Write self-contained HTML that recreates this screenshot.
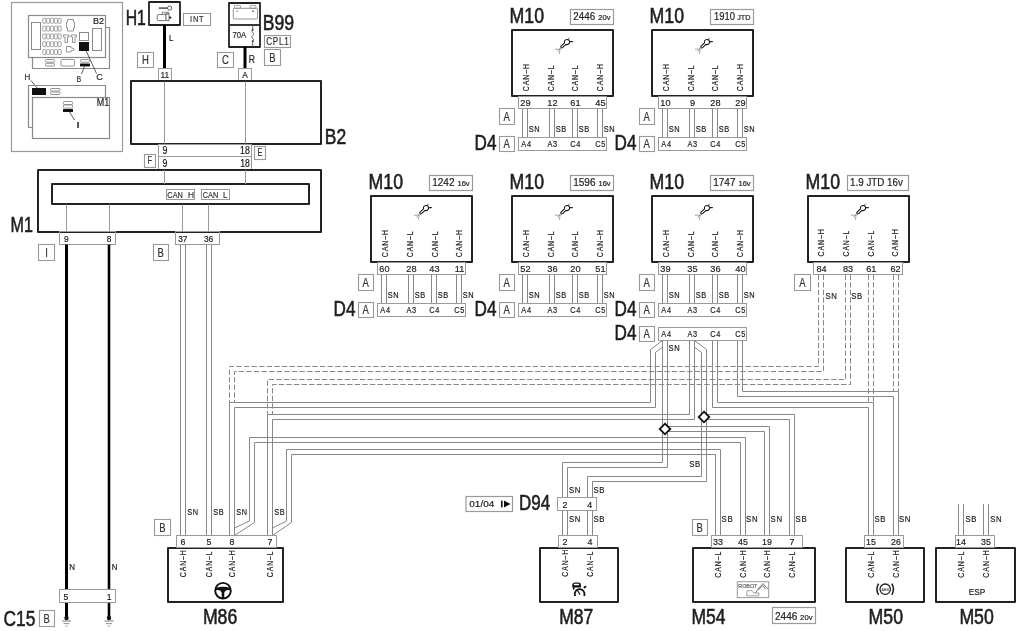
<!DOCTYPE html><html><head><meta charset="utf-8"><style>html,body{margin:0;padding:0;background:#fff;}svg{display:block;will-change:transform;} text{stroke-width:0.2px;font-family:"Liberation Sans",sans-serif;}</style></head><body><svg width="1024" height="631" viewBox="0 0 1024 631"><rect width="1024" height="631" fill="#fff"/><rect x="11.5" y="2.5" width="111" height="149" fill="none" stroke="#9a9a9a" stroke-width="1.2"/>
<polyline points="105.5,27.5 109.5,27.5 109.5,68.5 32.5,68.5 32.5,57.5" fill="none" stroke="#8a8a8a" stroke-width="1.2"/>
<rect x="28.5" y="15.5" width="77" height="42" fill="#fff" stroke="#8a8a8a" stroke-width="1.2"/>
<rect x="31.5" y="22.5" width="9" height="27" fill="none" stroke="#8a8a8a" stroke-width="1"/>
<rect x="42.8" y="18.3" width="3.2" height="5" fill="none" stroke="#8a8a8a" stroke-width="0.8" rx="1"/>
<rect x="46.6" y="18.3" width="3.2" height="5" fill="none" stroke="#8a8a8a" stroke-width="0.8" rx="1"/>
<rect x="50.4" y="18.3" width="3.2" height="5" fill="none" stroke="#8a8a8a" stroke-width="0.8" rx="1"/>
<rect x="54.2" y="18.3" width="3.2" height="5" fill="none" stroke="#8a8a8a" stroke-width="0.8" rx="1"/>
<rect x="58" y="18.3" width="3.2" height="5" fill="none" stroke="#8a8a8a" stroke-width="0.8" rx="1"/>
<rect x="42.8" y="26.1" width="3.2" height="5" fill="none" stroke="#8a8a8a" stroke-width="0.8" rx="1"/>
<rect x="46.6" y="26.1" width="3.2" height="5" fill="none" stroke="#8a8a8a" stroke-width="0.8" rx="1"/>
<rect x="50.4" y="26.1" width="3.2" height="5" fill="none" stroke="#8a8a8a" stroke-width="0.8" rx="1"/>
<rect x="54.2" y="26.1" width="3.2" height="5" fill="none" stroke="#8a8a8a" stroke-width="0.8" rx="1"/>
<rect x="58" y="26.1" width="3.2" height="5" fill="none" stroke="#8a8a8a" stroke-width="0.8" rx="1"/>
<rect x="42.8" y="33.9" width="3.2" height="5" fill="none" stroke="#8a8a8a" stroke-width="0.8" rx="1"/>
<rect x="46.6" y="33.9" width="3.2" height="5" fill="none" stroke="#8a8a8a" stroke-width="0.8" rx="1"/>
<rect x="50.4" y="33.9" width="3.2" height="5" fill="none" stroke="#8a8a8a" stroke-width="0.8" rx="1"/>
<rect x="54.2" y="33.9" width="3.2" height="5" fill="none" stroke="#8a8a8a" stroke-width="0.8" rx="1"/>
<rect x="58" y="33.9" width="3.2" height="5" fill="none" stroke="#8a8a8a" stroke-width="0.8" rx="1"/>
<rect x="42.8" y="41.7" width="3.2" height="5" fill="none" stroke="#8a8a8a" stroke-width="0.8" rx="1"/>
<rect x="46.6" y="41.7" width="3.2" height="5" fill="none" stroke="#8a8a8a" stroke-width="0.8" rx="1"/>
<rect x="50.4" y="41.7" width="3.2" height="5" fill="none" stroke="#8a8a8a" stroke-width="0.8" rx="1"/>
<rect x="54.2" y="41.7" width="3.2" height="5" fill="none" stroke="#8a8a8a" stroke-width="0.8" rx="1"/>
<rect x="58" y="41.7" width="3.2" height="5" fill="none" stroke="#8a8a8a" stroke-width="0.8" rx="1"/>
<rect x="42.8" y="49.5" width="3.2" height="5" fill="none" stroke="#8a8a8a" stroke-width="0.8" rx="1"/>
<rect x="46.6" y="49.5" width="3.2" height="5" fill="none" stroke="#8a8a8a" stroke-width="0.8" rx="1"/>
<rect x="50.4" y="49.5" width="3.2" height="5" fill="none" stroke="#8a8a8a" stroke-width="0.8" rx="1"/>
<rect x="54.2" y="49.5" width="3.2" height="5" fill="none" stroke="#8a8a8a" stroke-width="0.8" rx="1"/>
<rect x="58" y="49.5" width="3.2" height="5" fill="none" stroke="#8a8a8a" stroke-width="0.8" rx="1"/>
<polyline points="67.5,19.5 73.5,19.5 73.5,22 74.5,22 74.5,28 73.5,28 73.5,31 67.5,31 67.5,28 66.5,28 66.5,22 67.5,22 67.5,19.5" fill="none" stroke="#8a8a8a" stroke-width="0.9"/>
<polyline points="63.5,35 69,35 69,37 67.5,37 67.5,42.5 65,42.5 65,37 63.5,37 63.5,35" fill="none" stroke="#8a8a8a" stroke-width="0.9"/>
<polyline points="71,35 76.5,35 76.5,37 75,37 75,42.5 72.5,42.5 72.5,37 71,37 71,35" fill="none" stroke="#8a8a8a" stroke-width="0.9"/>
<polyline points="66.5,46.5 71,46.5 71,47.8 74,48.5 74,50 71,50.8 71,52 66.5,52 66.5,46.5" fill="none" stroke="#8a8a8a" stroke-width="0.9"/>
<rect x="79.5" y="32.5" width="9" height="8" fill="none" stroke="#8a8a8a" stroke-width="1"/>
<rect x="79.5" y="42.5" width="9" height="8" fill="#111" stroke="#111" stroke-width="1"/>
<rect x="92.5" y="28.5" width="9" height="22" fill="none" stroke="#8a8a8a" stroke-width="1"/>
<text transform="matrix(0.92 0 0 1 93.07 24)" font-size="9.86" fill="#222" stroke="#222">B2</text>
<rect x="45.5" y="59.5" width="9" height="2.7" fill="none" stroke="#8a8a8a" stroke-width="0.9" rx="0.8"/>
<rect x="45.5" y="63.3" width="9" height="2.7" fill="none" stroke="#8a8a8a" stroke-width="0.9" rx="0.8"/>
<rect x="61" y="59.5" width="13.5" height="6.5" fill="none" stroke="#8a8a8a" stroke-width="0.9" rx="0.8"/>
<rect x="80.5" y="59.5" width="9" height="2.7" fill="none" stroke="#8a8a8a" stroke-width="0.9" rx="0.8"/>
<rect x="80.5" y="64" width="9" height="2" fill="#111" stroke="#111" stroke-width="0.9"/>
<polyline points="84.5,66.5 81.5,74" fill="none" stroke="#333" stroke-width="0.8"/>
<polyline points="86,50.5 96.5,73.5" fill="none" stroke="#333" stroke-width="0.8"/>
<text transform="matrix(0.78 0 0 1 76.54 82)" font-size="9" fill="#333" stroke="#333">B</text>
<text transform="matrix(1.02 0 0 1 96.24 80)" font-size="9" fill="#333" stroke="#333">C</text>
<text transform="matrix(0.99 0 0 1 24.46 80)" font-size="8.14" fill="#333" stroke="#333">H</text>
<polyline points="30.8,80.5 37.2,88" fill="none" stroke="#333" stroke-width="0.8"/>
<polyline points="32.5,127.5 28.5,127.5 28.5,85.5 105.5,85.5 105.5,97" fill="none" stroke="#8a8a8a" stroke-width="1.2"/>
<rect x="32.5" y="88.5" width="13" height="6" fill="#111" stroke="#111" stroke-width="1"/>
<rect x="50.5" y="88.5" width="9.5" height="2.5" fill="none" stroke="#8a8a8a" stroke-width="0.9" rx="0.8"/>
<rect x="50.5" y="92" width="9.5" height="2.5" fill="none" stroke="#8a8a8a" stroke-width="0.9" rx="0.8"/>
<rect x="32.5" y="97.5" width="77" height="41" fill="#fff" stroke="#8a8a8a" stroke-width="1.2"/>
<text transform="matrix(0.83 0 0 1 96.68 106)" font-size="10.86" fill="#222" stroke="#222">M1</text>
<rect x="63.5" y="101.5" width="9" height="3" fill="none" stroke="#8a8a8a" stroke-width="0.9" rx="0.8"/>
<rect x="63.5" y="105" width="9" height="3" fill="none" stroke="#8a8a8a" stroke-width="0.9" rx="0.8"/>
<rect x="63.5" y="109.5" width="9" height="2" fill="#111" stroke="#111" stroke-width="1"/>
<polyline points="69.5,112 74.6,120" fill="none" stroke="#333" stroke-width="0.8"/>
<text transform="matrix(1.52 0 0 1 75.95 128)" font-size="9.86" fill="#333" stroke="#333">I</text>
<rect x="149" y="2" width="31" height="23" fill="#fff" stroke="#222" stroke-width="1.8" stroke-linejoin="round"/>
<text transform="matrix(0.7 0 0 1 125.64 25)" font-size="22.57" fill="#1e1e1e" stroke="#1e1e1e" style="stroke-width:0.6px">H1</text>
<polyline points="158.8,8.1 167.5,8.1" fill="none" stroke="#555" stroke-width="1.6"/>
<circle cx="169.6" cy="8.1" r="2.1" fill="none" stroke="#555" stroke-width="0.9"/>
<rect x="157.2" y="14.5" width="8.8" height="6.1" fill="#fff" stroke="#666" stroke-width="0.9" rx="1.5"/>
<rect x="166" y="13.2" width="3" height="7.4" fill="#fff" stroke="#666" stroke-width="0.9"/>
<rect x="162.2" y="12.2" width="6.1" height="2.1" fill="none" stroke="#777" stroke-width="0.8"/>
<path d="M169.5 16 L171.8 17.6 L169.5 19.2 Z" fill="#111"/>
<rect x="183.5" y="13.5" width="27" height="12" fill="#fff" stroke="#9a9a9a" stroke-width="1.1"/>
<text transform="matrix(0.8 0 0 1 197.16 22)" font-size="9.29" fill="#333" stroke="#333" text-anchor="middle" letter-spacing="0.9">INT</text>
<polyline points="164.5,25 164.5,69" fill="none" stroke="#000" stroke-width="3"/>
<text transform="matrix(0.85 0 0 1 169.06 41)" font-size="9.43" fill="#222" stroke="#222">L</text>
<rect x="137.5" y="52.5" width="16" height="15" fill="#fff" stroke="#9a9a9a" stroke-width="1.1"/>
<text transform="matrix(0.74 0 0 1 145.5 64)" font-size="12.86" fill="#333" stroke="#333" text-anchor="middle">H</text>
<rect x="158.5" y="68.5" width="13" height="13" fill="none" stroke="#9a9a9a" stroke-width="1"/>
<text transform="matrix(0.9 0 0 1 164.8 78)" font-size="9.29" fill="#222" stroke="#222" text-anchor="middle">11</text>
<rect x="229" y="3" width="31" height="44" fill="#fff" stroke="#222" stroke-width="1.8" stroke-linejoin="round"/>
<polyline points="229,25 260,25" fill="none" stroke="#222" stroke-width="1.8"/>
<rect x="233.3" y="8.3" width="24.2" height="10.7" fill="none" stroke="#888" stroke-width="0.9" rx="1"/>
<rect x="234.5" y="5.4" width="5.9" height="2.9" fill="none" stroke="#888" stroke-width="0.8" rx="0.6"/>
<rect x="250" y="5.4" width="5.9" height="2.9" fill="none" stroke="#888" stroke-width="0.8" rx="0.6"/>
<polyline points="236.3,11.2 238.3,11.2" fill="none" stroke="#666" stroke-width="0.8"/>
<polyline points="252.1,11.2 254.1,11.2" fill="none" stroke="#666" stroke-width="0.8"/>
<polyline points="253.1,10.2 253.1,12.2" fill="none" stroke="#666" stroke-width="0.8"/>
<text transform="matrix(0.8 0 0 1 232.52 38)" font-size="9.57" fill="#1e1e1e" stroke="#1e1e1e">70A</text>
<path d="M252.7 25 V29.7 M252.7 41.2 V47 M252.7 29.7 C249.6 31.2,256 33.6,252.7 35.5 C249.4 37.4,255.8 39.6,252.7 41.2" fill="none" stroke="#555" stroke-width="0.9"/>
<circle cx="252.7" cy="29.8" r="0.9" fill="#333"/><circle cx="252.7" cy="41.2" r="0.9" fill="#333"/>
<text transform="matrix(0.8 0 0 1 262.69 30)" font-size="22" fill="#1e1e1e" stroke="#1e1e1e" style="stroke-width:0.6px">B99</text>
<rect x="264.5" y="35.5" width="26" height="12" fill="#fff" stroke="#9a9a9a" stroke-width="1.1"/>
<text transform="matrix(0.78 0 0 1 277.85 45)" font-size="10.43" fill="#333" stroke="#333" text-anchor="middle" letter-spacing="0.9">CPL1</text>
<rect x="264.5" y="49.5" width="16" height="16" fill="#fff" stroke="#9a9a9a" stroke-width="1.1"/>
<text transform="matrix(0.74 0 0 1 272.5 62)" font-size="12.86" fill="#333" stroke="#333" text-anchor="middle">B</text>
<rect x="217.5" y="52.5" width="16" height="15" fill="#fff" stroke="#9a9a9a" stroke-width="1.1"/>
<text transform="matrix(0.74 0 0 1 225.5 64)" font-size="12.86" fill="#333" stroke="#333" text-anchor="middle">C</text>
<polyline points="245,47 245,69" fill="none" stroke="#000" stroke-width="3"/>
<text transform="matrix(0.85 0 0 1 248.81 63)" font-size="10.14" fill="#222" stroke="#222">R</text>
<rect x="238.5" y="68.5" width="13" height="13" fill="none" stroke="#9a9a9a" stroke-width="1"/>
<text transform="matrix(0.9 0 0 1 245 78)" font-size="9.29" fill="#222" stroke="#222" text-anchor="middle">A</text>
<rect x="131" y="81" width="190" height="63" fill="#fff" stroke="#222" stroke-width="2" stroke-linejoin="round"/>
<polyline points="164.5,81.5 164.5,143.5" fill="none" stroke="#999" stroke-width="1"/>
<polyline points="245.5,81.5 245.5,143.5" fill="none" stroke="#999" stroke-width="1"/>
<text transform="matrix(0.79 0 0 1 324.8 144)" font-size="22.14" fill="#1e1e1e" stroke="#1e1e1e" style="stroke-width:0.6px">B2</text>
<rect x="158.5" y="144.5" width="93" height="25" fill="none" stroke="#9a9a9a" stroke-width="1"/>
<polyline points="158.5,156.5 251.5,156.5" fill="none" stroke="#9a9a9a" stroke-width="1"/>
<text transform="matrix(0.85 0 0 1 162.56 154)" font-size="10.43" fill="#1a1a1a" stroke="#1a1a1a">9</text>
<text transform="matrix(0.85 0 0 1 240.12 154)" font-size="10.43" fill="#1a1a1a" stroke="#1a1a1a">18</text>
<text transform="matrix(0.85 0 0 1 162.56 167)" font-size="10.29" fill="#1a1a1a" stroke="#1a1a1a">9</text>
<text transform="matrix(0.85 0 0 1 240.25 167)" font-size="10.29" fill="#1a1a1a" stroke="#1a1a1a">18</text>
<rect x="254.5" y="146.5" width="11" height="13" fill="#fff" stroke="#9a9a9a" stroke-width="1.1"/>
<text transform="matrix(0.74 0 0 1 260 156)" font-size="10" fill="#333" stroke="#333" text-anchor="middle">E</text>
<rect x="144.5" y="154.5" width="11" height="13" fill="#fff" stroke="#9a9a9a" stroke-width="1.1"/>
<text transform="matrix(0.74 0 0 1 149.75 164)" font-size="10" fill="#333" stroke="#333" text-anchor="middle">F</text>
<rect x="38" y="170" width="283" height="62" fill="#fff" stroke="#222" stroke-width="2" stroke-linejoin="round"/>
<rect x="52" y="184" width="257" height="20" fill="#fff" stroke="#222" stroke-width="2" stroke-linejoin="round"/>
<polyline points="164.5,170 164.5,184" fill="none" stroke="#999" stroke-width="1"/>
<polyline points="245.5,170 245.5,184" fill="none" stroke="#999" stroke-width="1"/>
<rect x="166.5" y="189.5" width="28" height="10" fill="#fff" stroke="#9a9a9a" stroke-width="1"/>
<rect x="201.5" y="189.5" width="28" height="10" fill="#fff" stroke="#9a9a9a" stroke-width="1"/>
<text transform="matrix(0.78 0 0 1 167.33 198)" font-size="9.43" fill="#333" stroke="#333">CAN</text>
<text transform="matrix(0.89 0 0 1 187.93 198)" font-size="9.43" fill="#333" stroke="#333">H</text>
<text transform="matrix(0.77 0 0 1 202.84 198)" font-size="9.43" fill="#333" stroke="#333">CAN</text>
<text transform="matrix(0.84 0 0 1 223.06 198)" font-size="9.43" fill="#333" stroke="#333">L</text>
<polyline points="66.5,204.5 66.5,231.5" fill="none" stroke="#999" stroke-width="1"/>
<polyline points="109.5,204.5 109.5,231.5" fill="none" stroke="#999" stroke-width="1"/>
<polyline points="182.5,204.5 182.5,231.5" fill="none" stroke="#999" stroke-width="1"/>
<polyline points="208.5,204.5 208.5,231.5" fill="none" stroke="#999" stroke-width="1"/>
<text transform="matrix(0.71 0 0 1 10.6 232)" font-size="22.71" fill="#1e1e1e" stroke="#1e1e1e" style="stroke-width:0.6px">M1</text>
<rect x="59.5" y="231.5" width="56" height="13" fill="none" stroke="#9a9a9a" stroke-width="1"/>
<text transform="matrix(0.9 0 0 1 66.3 242)" font-size="9.29" fill="#1a1a1a" stroke="#1a1a1a" text-anchor="middle">9</text>
<text transform="matrix(0.9 0 0 1 109 242)" font-size="9.29" fill="#1a1a1a" stroke="#1a1a1a" text-anchor="middle">8</text>
<rect x="175.5" y="231.5" width="44" height="13" fill="none" stroke="#9a9a9a" stroke-width="1"/>
<text transform="matrix(0.9 0 0 1 182.8 242)" font-size="9.29" fill="#1a1a1a" stroke="#1a1a1a" text-anchor="middle">37</text>
<text transform="matrix(0.9 0 0 1 208.6 242)" font-size="9.29" fill="#1a1a1a" stroke="#1a1a1a" text-anchor="middle">36</text>
<rect x="38.5" y="244.5" width="16" height="16" fill="#fff" stroke="#9a9a9a" stroke-width="1.1"/>
<text transform="matrix(0.74 0 0 1 46.5 257)" font-size="12.86" fill="#333" stroke="#333" text-anchor="middle">I</text>
<rect x="153.5" y="244.5" width="15" height="16" fill="#fff" stroke="#9a9a9a" stroke-width="1.1"/>
<text transform="matrix(0.74 0 0 1 160.75 257)" font-size="12.86" fill="#333" stroke="#333" text-anchor="middle">B</text>
<polyline points="66.5,244.5 66.5,618" fill="none" stroke="#000" stroke-width="3"/>
<polyline points="109,244.5 109,618" fill="none" stroke="#000" stroke-width="2.6"/>
<text transform="matrix(0.85 0 0 1 69.17 570)" font-size="9.29" fill="#222" stroke="#222">N</text>
<text transform="matrix(0.85 0 0 1 111.67 570)" font-size="9.29" fill="#222" stroke="#222">N</text>
<rect x="59.5" y="589.5" width="56" height="13" fill="#fff" stroke="#9a9a9a" stroke-width="1"/>
<text transform="matrix(0.9 0 0 1 65.8 600)" font-size="9.57" fill="#1a1a1a" stroke="#1a1a1a" text-anchor="middle">5</text>
<text transform="matrix(0.9 0 0 1 109.2 600)" font-size="9.57" fill="#1a1a1a" stroke="#1a1a1a" text-anchor="middle">1</text>
<circle cx="66.5" cy="618" r="2.2" fill="#111"/>
<polyline points="62,621 71,621" fill="none" stroke="#666" stroke-width="0.9"/>
<polyline points="63.5,623.6 69.5,623.6" fill="none" stroke="#888" stroke-width="0.9"/>
<polyline points="65,626 68,626" fill="none" stroke="#aaa" stroke-width="0.9"/>
<circle cx="109" cy="618" r="2.2" fill="#111"/>
<polyline points="104.5,621 113.5,621" fill="none" stroke="#666" stroke-width="0.9"/>
<polyline points="106,623.6 112,623.6" fill="none" stroke="#888" stroke-width="0.9"/>
<polyline points="107.5,626 110.5,626" fill="none" stroke="#aaa" stroke-width="0.9"/>
<text transform="matrix(0.77 0 0 1 3.53 626)" font-size="22.57" fill="#1e1e1e" stroke="#1e1e1e" style="stroke-width:0.6px">C15</text>
<rect x="39.5" y="610.5" width="15" height="16" fill="#fff" stroke="#9a9a9a" stroke-width="1.1"/>
<text transform="matrix(0.74 0 0 1 46.75 623)" font-size="12.86" fill="#333" stroke="#333" text-anchor="middle">B</text>
<text transform="matrix(0.81 0 0 1 509.58 23)" font-size="21.86" fill="#1e1e1e" stroke="#1e1e1e" style="stroke-width:0.6px">M10</text>
<rect x="512" y="30" width="101" height="66" fill="#fff" stroke="#222" stroke-width="2" stroke-linejoin="round"/>
<g transform="translate(564 44)" fill="none" stroke-linecap="round"><path d="M-2.95 2.1 L0.53 -1.18 A2.6 2.6 0 1 1 2.03 0.42 L-1.45 3.7 A1.1 1.1 0 0 1 -2.95 2.1 Z" stroke="#111" stroke-width="1.05"/><path d="M4.2 -4.2 L5.3 -5.9" stroke="#333" stroke-width="0.8"/><path d="M5.6 -2.4 L8.4 -2.4" stroke="#222" stroke-width="1.2"/><path d="M-4 5 L-8.5 5.3 M-4 5 L-6.8 7.8 M-4 5 L-4.5 9.5" stroke="#777" stroke-width="0.75" stroke-dasharray="1.2 0.9"/></g>
<text transform="translate(529 91.35) rotate(-90) scale(0.74 1)" font-size="9.43" fill="#222" stroke="#222" letter-spacing="1.3">CAN–H</text>
<text transform="translate(554 91.35) rotate(-90) scale(0.73 1)" font-size="9.43" fill="#222" stroke="#222" letter-spacing="1.3">CAN–L</text>
<text transform="translate(578 91.35) rotate(-90) scale(0.73 1)" font-size="9.43" fill="#222" stroke="#222" letter-spacing="1.3">CAN–L</text>
<text transform="translate(603 91.35) rotate(-90) scale(0.74 1)" font-size="9.43" fill="#222" stroke="#222" letter-spacing="1.3">CAN–H</text>
<rect x="518.5" y="96.5" width="88" height="12" fill="none" stroke="#9a9a9a" stroke-width="1"/>
<text transform="matrix(0.95 0 0 1 525.5 106)" font-size="9.71" fill="#222" stroke="#222" text-anchor="middle">29</text>
<text transform="matrix(0.95 0 0 1 552.5 106)" font-size="9.71" fill="#222" stroke="#222" text-anchor="middle">12</text>
<text transform="matrix(0.95 0 0 1 575.5 106)" font-size="9.71" fill="#222" stroke="#222" text-anchor="middle">61</text>
<text transform="matrix(0.95 0 0 1 600.5 106)" font-size="9.71" fill="#222" stroke="#222" text-anchor="middle">45</text>
<polyline points="522.5,108.5 522.5,137.5" fill="none" stroke="#888" stroke-width="1"/>
<polyline points="527.5,108.5 527.5,137.5" fill="none" stroke="#888" stroke-width="1"/>
<text transform="matrix(0.8 0 0 1 528.63 132)" font-size="9.29" fill="#222" stroke="#222" letter-spacing="0.8">SN</text>
<polyline points="549.5,108.5 549.5,137.5" fill="none" stroke="#888" stroke-width="1"/>
<polyline points="554.5,108.5 554.5,137.5" fill="none" stroke="#888" stroke-width="1"/>
<text transform="matrix(0.8 0 0 1 555.63 132)" font-size="9.29" fill="#222" stroke="#222" letter-spacing="0.8">SB</text>
<polyline points="572.5,108.5 572.5,137.5" fill="none" stroke="#888" stroke-width="1"/>
<polyline points="577.5,108.5 577.5,137.5" fill="none" stroke="#888" stroke-width="1"/>
<text transform="matrix(0.8 0 0 1 578.63 132)" font-size="9.29" fill="#222" stroke="#222" letter-spacing="0.8">SB</text>
<polyline points="597.5,108.5 597.5,137.5" fill="none" stroke="#888" stroke-width="1"/>
<polyline points="602.5,108.5 602.5,137.5" fill="none" stroke="#888" stroke-width="1"/>
<text transform="matrix(0.8 0 0 1 603.63 132)" font-size="9.29" fill="#222" stroke="#222" letter-spacing="0.8">SN</text>
<rect x="499.5" y="108.5" width="15" height="16" fill="#fff" stroke="#9a9a9a" stroke-width="1.1"/>
<text transform="matrix(0.74 0 0 1 506.75 121)" font-size="12.86" fill="#333" stroke="#333" text-anchor="middle">A</text>
<rect x="518.5" y="137.5" width="88" height="13" fill="#fff" stroke="#9a9a9a" stroke-width="1"/>
<text transform="matrix(0.81 0 0 1 526.52 147)" font-size="9.14" fill="#222" stroke="#222" text-anchor="middle" letter-spacing="0.8">A4</text>
<text transform="matrix(0.81 0 0 1 552.62 147)" font-size="9.14" fill="#222" stroke="#222" text-anchor="middle" letter-spacing="0.8">A3</text>
<text transform="matrix(0.81 0 0 1 575.62 147)" font-size="9.14" fill="#222" stroke="#222" text-anchor="middle" letter-spacing="0.8">C4</text>
<text transform="matrix(0.81 0 0 1 600.52 147)" font-size="9.14" fill="#222" stroke="#222" text-anchor="middle" letter-spacing="0.8">C5</text>
<rect x="499.5" y="136.5" width="15" height="15" fill="#fff" stroke="#9a9a9a" stroke-width="1.1"/>
<text transform="matrix(0.74 0 0 1 506.75 148)" font-size="12.86" fill="#333" stroke="#333" text-anchor="middle">A</text>
<text transform="matrix(0.79 0 0 1 474.53 150)" font-size="21.71" fill="#1e1e1e" stroke="#1e1e1e" style="stroke-width:0.6px">D4</text>
<rect x="570.5" y="9.5" width="43" height="15" fill="#fff" stroke="#9a9a9a" stroke-width="1.2"/>
<text transform="matrix(0.97 0 0 1 573.31 20)" font-size="10.14" fill="#222" stroke="#222">2446</text>
<text transform="matrix(0.96 0 0 1 598.32 20)" font-size="7.86" fill="#222" stroke="#222">20v</text>
<text transform="matrix(0.81 0 0 1 649.58 23)" font-size="21.86" fill="#1e1e1e" stroke="#1e1e1e" style="stroke-width:0.6px">M10</text>
<rect x="652" y="30" width="101" height="66" fill="#fff" stroke="#222" stroke-width="2" stroke-linejoin="round"/>
<g transform="translate(704 44)" fill="none" stroke-linecap="round"><path d="M-2.95 2.1 L0.53 -1.18 A2.6 2.6 0 1 1 2.03 0.42 L-1.45 3.7 A1.1 1.1 0 0 1 -2.95 2.1 Z" stroke="#111" stroke-width="1.05"/><path d="M4.2 -4.2 L5.3 -5.9" stroke="#333" stroke-width="0.8"/><path d="M5.6 -2.4 L8.4 -2.4" stroke="#222" stroke-width="1.2"/><path d="M-4 5 L-8.5 5.3 M-4 5 L-6.8 7.8 M-4 5 L-4.5 9.5" stroke="#777" stroke-width="0.75" stroke-dasharray="1.2 0.9"/></g>
<text transform="translate(669 91.35) rotate(-90) scale(0.74 1)" font-size="9.43" fill="#222" stroke="#222" letter-spacing="1.3">CAN–H</text>
<text transform="translate(694 91.35) rotate(-90) scale(0.73 1)" font-size="9.43" fill="#222" stroke="#222" letter-spacing="1.3">CAN–L</text>
<text transform="translate(718 91.35) rotate(-90) scale(0.73 1)" font-size="9.43" fill="#222" stroke="#222" letter-spacing="1.3">CAN–L</text>
<text transform="translate(743 91.35) rotate(-90) scale(0.74 1)" font-size="9.43" fill="#222" stroke="#222" letter-spacing="1.3">CAN–H</text>
<rect x="658.5" y="96.5" width="88" height="12" fill="none" stroke="#9a9a9a" stroke-width="1"/>
<text transform="matrix(0.95 0 0 1 665.5 106)" font-size="9.71" fill="#222" stroke="#222" text-anchor="middle">10</text>
<text transform="matrix(0.95 0 0 1 692.5 106)" font-size="9.71" fill="#222" stroke="#222" text-anchor="middle">9</text>
<text transform="matrix(0.95 0 0 1 715.5 106)" font-size="9.71" fill="#222" stroke="#222" text-anchor="middle">28</text>
<text transform="matrix(0.95 0 0 1 740.5 106)" font-size="9.71" fill="#222" stroke="#222" text-anchor="middle">29</text>
<polyline points="662.5,108.5 662.5,137.5" fill="none" stroke="#888" stroke-width="1"/>
<polyline points="667.5,108.5 667.5,137.5" fill="none" stroke="#888" stroke-width="1"/>
<text transform="matrix(0.8 0 0 1 668.63 132)" font-size="9.29" fill="#222" stroke="#222" letter-spacing="0.8">SN</text>
<polyline points="689.5,108.5 689.5,137.5" fill="none" stroke="#888" stroke-width="1"/>
<polyline points="694.5,108.5 694.5,137.5" fill="none" stroke="#888" stroke-width="1"/>
<text transform="matrix(0.8 0 0 1 695.63 132)" font-size="9.29" fill="#222" stroke="#222" letter-spacing="0.8">SB</text>
<polyline points="712.5,108.5 712.5,137.5" fill="none" stroke="#888" stroke-width="1"/>
<polyline points="717.5,108.5 717.5,137.5" fill="none" stroke="#888" stroke-width="1"/>
<text transform="matrix(0.8 0 0 1 718.63 132)" font-size="9.29" fill="#222" stroke="#222" letter-spacing="0.8">SB</text>
<polyline points="737.5,108.5 737.5,137.5" fill="none" stroke="#888" stroke-width="1"/>
<polyline points="742.5,108.5 742.5,137.5" fill="none" stroke="#888" stroke-width="1"/>
<text transform="matrix(0.8 0 0 1 743.63 132)" font-size="9.29" fill="#222" stroke="#222" letter-spacing="0.8">SN</text>
<rect x="639.5" y="108.5" width="15" height="16" fill="#fff" stroke="#9a9a9a" stroke-width="1.1"/>
<text transform="matrix(0.74 0 0 1 646.75 121)" font-size="12.86" fill="#333" stroke="#333" text-anchor="middle">A</text>
<rect x="658.5" y="137.5" width="88" height="13" fill="#fff" stroke="#9a9a9a" stroke-width="1"/>
<text transform="matrix(0.81 0 0 1 666.52 147)" font-size="9.14" fill="#222" stroke="#222" text-anchor="middle" letter-spacing="0.8">A4</text>
<text transform="matrix(0.81 0 0 1 692.62 147)" font-size="9.14" fill="#222" stroke="#222" text-anchor="middle" letter-spacing="0.8">A3</text>
<text transform="matrix(0.81 0 0 1 715.62 147)" font-size="9.14" fill="#222" stroke="#222" text-anchor="middle" letter-spacing="0.8">C4</text>
<text transform="matrix(0.81 0 0 1 740.52 147)" font-size="9.14" fill="#222" stroke="#222" text-anchor="middle" letter-spacing="0.8">C5</text>
<rect x="639.5" y="136.5" width="15" height="15" fill="#fff" stroke="#9a9a9a" stroke-width="1.1"/>
<text transform="matrix(0.74 0 0 1 646.75 148)" font-size="12.86" fill="#333" stroke="#333" text-anchor="middle">A</text>
<text transform="matrix(0.79 0 0 1 614.53 150)" font-size="21.71" fill="#1e1e1e" stroke="#1e1e1e" style="stroke-width:0.6px">D4</text>
<rect x="710.5" y="9.5" width="43" height="15" fill="#fff" stroke="#9a9a9a" stroke-width="1.2"/>
<text transform="matrix(0.89 0 0 1 714.05 20)" font-size="10.57" fill="#222" stroke="#222">1910</text>
<text transform="matrix(0.96 0 0 1 737.15 20)" font-size="7.57" fill="#222" stroke="#222">JTD</text>
<text transform="matrix(0.81 0 0 1 368.58 189)" font-size="21.86" fill="#1e1e1e" stroke="#1e1e1e" style="stroke-width:0.6px">M10</text>
<rect x="371" y="196" width="101" height="66" fill="#fff" stroke="#222" stroke-width="2" stroke-linejoin="round"/>
<g transform="translate(423 210)" fill="none" stroke-linecap="round"><path d="M-2.95 2.1 L0.53 -1.18 A2.6 2.6 0 1 1 2.03 0.42 L-1.45 3.7 A1.1 1.1 0 0 1 -2.95 2.1 Z" stroke="#111" stroke-width="1.05"/><path d="M4.2 -4.2 L5.3 -5.9" stroke="#333" stroke-width="0.8"/><path d="M5.6 -2.4 L8.4 -2.4" stroke="#222" stroke-width="1.2"/><path d="M-4 5 L-8.5 5.3 M-4 5 L-6.8 7.8 M-4 5 L-4.5 9.5" stroke="#777" stroke-width="0.75" stroke-dasharray="1.2 0.9"/></g>
<text transform="translate(388 257.35) rotate(-90) scale(0.74 1)" font-size="9.43" fill="#222" stroke="#222" letter-spacing="1.3">CAN–H</text>
<text transform="translate(413 257.35) rotate(-90) scale(0.73 1)" font-size="9.43" fill="#222" stroke="#222" letter-spacing="1.3">CAN–L</text>
<text transform="translate(438 257.35) rotate(-90) scale(0.73 1)" font-size="9.43" fill="#222" stroke="#222" letter-spacing="1.3">CAN–L</text>
<text transform="translate(462 257.35) rotate(-90) scale(0.74 1)" font-size="9.43" fill="#222" stroke="#222" letter-spacing="1.3">CAN–H</text>
<rect x="377.5" y="262.5" width="88" height="12" fill="none" stroke="#9a9a9a" stroke-width="1"/>
<text transform="matrix(0.95 0 0 1 384.5 272)" font-size="9.71" fill="#222" stroke="#222" text-anchor="middle">60</text>
<text transform="matrix(0.95 0 0 1 411.5 272)" font-size="9.71" fill="#222" stroke="#222" text-anchor="middle">28</text>
<text transform="matrix(0.95 0 0 1 434.5 272)" font-size="9.71" fill="#222" stroke="#222" text-anchor="middle">43</text>
<text transform="matrix(0.95 0 0 1 459.5 272)" font-size="9.71" fill="#222" stroke="#222" text-anchor="middle">11</text>
<polyline points="381.5,274.5 381.5,303.5" fill="none" stroke="#888" stroke-width="1"/>
<polyline points="386.5,274.5 386.5,303.5" fill="none" stroke="#888" stroke-width="1"/>
<text transform="matrix(0.8 0 0 1 387.63 298)" font-size="9.29" fill="#222" stroke="#222" letter-spacing="0.8">SN</text>
<polyline points="408.5,274.5 408.5,303.5" fill="none" stroke="#888" stroke-width="1"/>
<polyline points="413.5,274.5 413.5,303.5" fill="none" stroke="#888" stroke-width="1"/>
<text transform="matrix(0.8 0 0 1 414.63 298)" font-size="9.29" fill="#222" stroke="#222" letter-spacing="0.8">SB</text>
<polyline points="431.5,274.5 431.5,303.5" fill="none" stroke="#888" stroke-width="1"/>
<polyline points="436.5,274.5 436.5,303.5" fill="none" stroke="#888" stroke-width="1"/>
<text transform="matrix(0.8 0 0 1 437.63 298)" font-size="9.29" fill="#222" stroke="#222" letter-spacing="0.8">SB</text>
<polyline points="456.5,274.5 456.5,303.5" fill="none" stroke="#888" stroke-width="1"/>
<polyline points="461.5,274.5 461.5,303.5" fill="none" stroke="#888" stroke-width="1"/>
<text transform="matrix(0.8 0 0 1 462.63 298)" font-size="9.29" fill="#222" stroke="#222" letter-spacing="0.8">SN</text>
<rect x="358.5" y="274.5" width="15" height="16" fill="#fff" stroke="#9a9a9a" stroke-width="1.1"/>
<text transform="matrix(0.74 0 0 1 365.75 287)" font-size="12.86" fill="#333" stroke="#333" text-anchor="middle">A</text>
<rect x="377.5" y="303.5" width="88" height="13" fill="#fff" stroke="#9a9a9a" stroke-width="1"/>
<text transform="matrix(0.81 0 0 1 385.52 313)" font-size="9.14" fill="#222" stroke="#222" text-anchor="middle" letter-spacing="0.8">A4</text>
<text transform="matrix(0.81 0 0 1 411.62 313)" font-size="9.14" fill="#222" stroke="#222" text-anchor="middle" letter-spacing="0.8">A3</text>
<text transform="matrix(0.81 0 0 1 434.62 313)" font-size="9.14" fill="#222" stroke="#222" text-anchor="middle" letter-spacing="0.8">C4</text>
<text transform="matrix(0.81 0 0 1 459.52 313)" font-size="9.14" fill="#222" stroke="#222" text-anchor="middle" letter-spacing="0.8">C5</text>
<rect x="358.5" y="302.5" width="15" height="15" fill="#fff" stroke="#9a9a9a" stroke-width="1.1"/>
<text transform="matrix(0.74 0 0 1 365.75 314)" font-size="12.86" fill="#333" stroke="#333" text-anchor="middle">A</text>
<text transform="matrix(0.79 0 0 1 333.53 316)" font-size="21.71" fill="#1e1e1e" stroke="#1e1e1e" style="stroke-width:0.6px">D4</text>
<rect x="429.5" y="175.5" width="43" height="15" fill="#fff" stroke="#9a9a9a" stroke-width="1.2"/>
<text transform="matrix(0.99 0 0 1 432.2 186)" font-size="10.14" fill="#222" stroke="#222">1242</text>
<text transform="matrix(0.97 0 0 1 457.39 186)" font-size="7.86" fill="#222" stroke="#222">16v</text>
<text transform="matrix(0.81 0 0 1 509.58 189)" font-size="21.86" fill="#1e1e1e" stroke="#1e1e1e" style="stroke-width:0.6px">M10</text>
<rect x="512" y="196" width="101" height="66" fill="#fff" stroke="#222" stroke-width="2" stroke-linejoin="round"/>
<g transform="translate(564 210)" fill="none" stroke-linecap="round"><path d="M-2.95 2.1 L0.53 -1.18 A2.6 2.6 0 1 1 2.03 0.42 L-1.45 3.7 A1.1 1.1 0 0 1 -2.95 2.1 Z" stroke="#111" stroke-width="1.05"/><path d="M4.2 -4.2 L5.3 -5.9" stroke="#333" stroke-width="0.8"/><path d="M5.6 -2.4 L8.4 -2.4" stroke="#222" stroke-width="1.2"/><path d="M-4 5 L-8.5 5.3 M-4 5 L-6.8 7.8 M-4 5 L-4.5 9.5" stroke="#777" stroke-width="0.75" stroke-dasharray="1.2 0.9"/></g>
<text transform="translate(529 257.35) rotate(-90) scale(0.74 1)" font-size="9.43" fill="#222" stroke="#222" letter-spacing="1.3">CAN–H</text>
<text transform="translate(554 257.35) rotate(-90) scale(0.73 1)" font-size="9.43" fill="#222" stroke="#222" letter-spacing="1.3">CAN–L</text>
<text transform="translate(578 257.35) rotate(-90) scale(0.73 1)" font-size="9.43" fill="#222" stroke="#222" letter-spacing="1.3">CAN–L</text>
<text transform="translate(603 257.35) rotate(-90) scale(0.74 1)" font-size="9.43" fill="#222" stroke="#222" letter-spacing="1.3">CAN–H</text>
<rect x="518.5" y="262.5" width="88" height="12" fill="none" stroke="#9a9a9a" stroke-width="1"/>
<text transform="matrix(0.95 0 0 1 525.5 272)" font-size="9.71" fill="#222" stroke="#222" text-anchor="middle">52</text>
<text transform="matrix(0.95 0 0 1 552.5 272)" font-size="9.71" fill="#222" stroke="#222" text-anchor="middle">36</text>
<text transform="matrix(0.95 0 0 1 575.5 272)" font-size="9.71" fill="#222" stroke="#222" text-anchor="middle">20</text>
<text transform="matrix(0.95 0 0 1 600.5 272)" font-size="9.71" fill="#222" stroke="#222" text-anchor="middle">51</text>
<polyline points="522.5,274.5 522.5,303.5" fill="none" stroke="#888" stroke-width="1"/>
<polyline points="527.5,274.5 527.5,303.5" fill="none" stroke="#888" stroke-width="1"/>
<text transform="matrix(0.8 0 0 1 528.63 298)" font-size="9.29" fill="#222" stroke="#222" letter-spacing="0.8">SN</text>
<polyline points="549.5,274.5 549.5,303.5" fill="none" stroke="#888" stroke-width="1"/>
<polyline points="554.5,274.5 554.5,303.5" fill="none" stroke="#888" stroke-width="1"/>
<text transform="matrix(0.8 0 0 1 555.63 298)" font-size="9.29" fill="#222" stroke="#222" letter-spacing="0.8">SB</text>
<polyline points="572.5,274.5 572.5,303.5" fill="none" stroke="#888" stroke-width="1"/>
<polyline points="577.5,274.5 577.5,303.5" fill="none" stroke="#888" stroke-width="1"/>
<text transform="matrix(0.8 0 0 1 578.63 298)" font-size="9.29" fill="#222" stroke="#222" letter-spacing="0.8">SB</text>
<polyline points="597.5,274.5 597.5,303.5" fill="none" stroke="#888" stroke-width="1"/>
<polyline points="602.5,274.5 602.5,303.5" fill="none" stroke="#888" stroke-width="1"/>
<text transform="matrix(0.8 0 0 1 603.63 298)" font-size="9.29" fill="#222" stroke="#222" letter-spacing="0.8">SN</text>
<rect x="499.5" y="274.5" width="15" height="16" fill="#fff" stroke="#9a9a9a" stroke-width="1.1"/>
<text transform="matrix(0.74 0 0 1 506.75 287)" font-size="12.86" fill="#333" stroke="#333" text-anchor="middle">A</text>
<rect x="518.5" y="303.5" width="88" height="13" fill="#fff" stroke="#9a9a9a" stroke-width="1"/>
<text transform="matrix(0.81 0 0 1 526.52 313)" font-size="9.14" fill="#222" stroke="#222" text-anchor="middle" letter-spacing="0.8">A4</text>
<text transform="matrix(0.81 0 0 1 552.62 313)" font-size="9.14" fill="#222" stroke="#222" text-anchor="middle" letter-spacing="0.8">A3</text>
<text transform="matrix(0.81 0 0 1 575.62 313)" font-size="9.14" fill="#222" stroke="#222" text-anchor="middle" letter-spacing="0.8">C4</text>
<text transform="matrix(0.81 0 0 1 600.52 313)" font-size="9.14" fill="#222" stroke="#222" text-anchor="middle" letter-spacing="0.8">C5</text>
<rect x="499.5" y="302.5" width="15" height="15" fill="#fff" stroke="#9a9a9a" stroke-width="1.1"/>
<text transform="matrix(0.74 0 0 1 506.75 314)" font-size="12.86" fill="#333" stroke="#333" text-anchor="middle">A</text>
<text transform="matrix(0.79 0 0 1 474.53 316)" font-size="21.71" fill="#1e1e1e" stroke="#1e1e1e" style="stroke-width:0.6px">D4</text>
<rect x="570.5" y="175.5" width="43" height="15" fill="#fff" stroke="#9a9a9a" stroke-width="1.2"/>
<text transform="matrix(0.99 0 0 1 573.2 186)" font-size="10.14" fill="#222" stroke="#222">1596</text>
<text transform="matrix(0.97 0 0 1 598.39 186)" font-size="7.86" fill="#222" stroke="#222">16v</text>
<text transform="matrix(0.81 0 0 1 649.58 189)" font-size="21.86" fill="#1e1e1e" stroke="#1e1e1e" style="stroke-width:0.6px">M10</text>
<rect x="652" y="196" width="101" height="66" fill="#fff" stroke="#222" stroke-width="2" stroke-linejoin="round"/>
<g transform="translate(704 210)" fill="none" stroke-linecap="round"><path d="M-2.95 2.1 L0.53 -1.18 A2.6 2.6 0 1 1 2.03 0.42 L-1.45 3.7 A1.1 1.1 0 0 1 -2.95 2.1 Z" stroke="#111" stroke-width="1.05"/><path d="M4.2 -4.2 L5.3 -5.9" stroke="#333" stroke-width="0.8"/><path d="M5.6 -2.4 L8.4 -2.4" stroke="#222" stroke-width="1.2"/><path d="M-4 5 L-8.5 5.3 M-4 5 L-6.8 7.8 M-4 5 L-4.5 9.5" stroke="#777" stroke-width="0.75" stroke-dasharray="1.2 0.9"/></g>
<text transform="translate(669 257.35) rotate(-90) scale(0.74 1)" font-size="9.43" fill="#222" stroke="#222" letter-spacing="1.3">CAN–H</text>
<text transform="translate(694 257.35) rotate(-90) scale(0.73 1)" font-size="9.43" fill="#222" stroke="#222" letter-spacing="1.3">CAN–L</text>
<text transform="translate(718 257.35) rotate(-90) scale(0.73 1)" font-size="9.43" fill="#222" stroke="#222" letter-spacing="1.3">CAN–L</text>
<text transform="translate(743 257.35) rotate(-90) scale(0.74 1)" font-size="9.43" fill="#222" stroke="#222" letter-spacing="1.3">CAN–H</text>
<rect x="658.5" y="262.5" width="88" height="12" fill="none" stroke="#9a9a9a" stroke-width="1"/>
<text transform="matrix(0.95 0 0 1 665.5 272)" font-size="9.71" fill="#222" stroke="#222" text-anchor="middle">39</text>
<text transform="matrix(0.95 0 0 1 692.5 272)" font-size="9.71" fill="#222" stroke="#222" text-anchor="middle">35</text>
<text transform="matrix(0.95 0 0 1 715.5 272)" font-size="9.71" fill="#222" stroke="#222" text-anchor="middle">36</text>
<text transform="matrix(0.95 0 0 1 740.5 272)" font-size="9.71" fill="#222" stroke="#222" text-anchor="middle">40</text>
<polyline points="662.5,274.5 662.5,303.5" fill="none" stroke="#888" stroke-width="1"/>
<polyline points="667.5,274.5 667.5,303.5" fill="none" stroke="#888" stroke-width="1"/>
<text transform="matrix(0.8 0 0 1 668.63 298)" font-size="9.29" fill="#222" stroke="#222" letter-spacing="0.8">SN</text>
<polyline points="689.5,274.5 689.5,303.5" fill="none" stroke="#888" stroke-width="1"/>
<polyline points="694.5,274.5 694.5,303.5" fill="none" stroke="#888" stroke-width="1"/>
<text transform="matrix(0.8 0 0 1 695.63 298)" font-size="9.29" fill="#222" stroke="#222" letter-spacing="0.8">SB</text>
<polyline points="712.5,274.5 712.5,303.5" fill="none" stroke="#888" stroke-width="1"/>
<polyline points="717.5,274.5 717.5,303.5" fill="none" stroke="#888" stroke-width="1"/>
<text transform="matrix(0.8 0 0 1 718.63 298)" font-size="9.29" fill="#222" stroke="#222" letter-spacing="0.8">SB</text>
<polyline points="737.5,274.5 737.5,303.5" fill="none" stroke="#888" stroke-width="1"/>
<polyline points="742.5,274.5 742.5,303.5" fill="none" stroke="#888" stroke-width="1"/>
<text transform="matrix(0.8 0 0 1 743.63 298)" font-size="9.29" fill="#222" stroke="#222" letter-spacing="0.8">SN</text>
<rect x="639.5" y="274.5" width="15" height="16" fill="#fff" stroke="#9a9a9a" stroke-width="1.1"/>
<text transform="matrix(0.74 0 0 1 646.75 287)" font-size="12.86" fill="#333" stroke="#333" text-anchor="middle">A</text>
<rect x="658.5" y="303.5" width="88" height="13" fill="#fff" stroke="#9a9a9a" stroke-width="1"/>
<text transform="matrix(0.81 0 0 1 666.52 313)" font-size="9.14" fill="#222" stroke="#222" text-anchor="middle" letter-spacing="0.8">A4</text>
<text transform="matrix(0.81 0 0 1 692.62 313)" font-size="9.14" fill="#222" stroke="#222" text-anchor="middle" letter-spacing="0.8">A3</text>
<text transform="matrix(0.81 0 0 1 715.62 313)" font-size="9.14" fill="#222" stroke="#222" text-anchor="middle" letter-spacing="0.8">C4</text>
<text transform="matrix(0.81 0 0 1 740.52 313)" font-size="9.14" fill="#222" stroke="#222" text-anchor="middle" letter-spacing="0.8">C5</text>
<rect x="639.5" y="302.5" width="15" height="15" fill="#fff" stroke="#9a9a9a" stroke-width="1.1"/>
<text transform="matrix(0.74 0 0 1 646.75 314)" font-size="12.86" fill="#333" stroke="#333" text-anchor="middle">A</text>
<text transform="matrix(0.79 0 0 1 614.53 316)" font-size="21.71" fill="#1e1e1e" stroke="#1e1e1e" style="stroke-width:0.6px">D4</text>
<rect x="710.5" y="175.5" width="43" height="15" fill="#fff" stroke="#9a9a9a" stroke-width="1.2"/>
<text transform="matrix(0.99 0 0 1 713.2 186)" font-size="10.14" fill="#222" stroke="#222">1747</text>
<text transform="matrix(0.97 0 0 1 738.39 186)" font-size="7.86" fill="#222" stroke="#222">16v</text>
<text transform="matrix(0.81 0 0 1 805.58 189)" font-size="21.86" fill="#1e1e1e" stroke="#1e1e1e" style="stroke-width:0.6px">M10</text>
<rect x="808" y="196" width="101" height="66" fill="#fff" stroke="#222" stroke-width="2" stroke-linejoin="round"/>
<g transform="translate(860 210)" fill="none" stroke-linecap="round"><path d="M-2.95 2.1 L0.53 -1.18 A2.6 2.6 0 1 1 2.03 0.42 L-1.45 3.7 A1.1 1.1 0 0 1 -2.95 2.1 Z" stroke="#111" stroke-width="1.05"/><path d="M4.2 -4.2 L5.3 -5.9" stroke="#333" stroke-width="0.8"/><path d="M5.6 -2.4 L8.4 -2.4" stroke="#222" stroke-width="1.2"/><path d="M-4 5 L-8.5 5.3 M-4 5 L-6.8 7.8 M-4 5 L-4.5 9.5" stroke="#777" stroke-width="0.75" stroke-dasharray="1.2 0.9"/></g>
<text transform="translate(824 256.45) rotate(-90) scale(0.73 1)" font-size="9.43" fill="#222" stroke="#222" letter-spacing="1.3">CAN–H</text>
<text transform="translate(849 256.44) rotate(-90) scale(0.72 1)" font-size="9.43" fill="#222" stroke="#222" letter-spacing="1.3">CAN–L</text>
<text transform="translate(874 256.44) rotate(-90) scale(0.72 1)" font-size="9.43" fill="#222" stroke="#222" letter-spacing="1.3">CAN–L</text>
<text transform="translate(898 256.45) rotate(-90) scale(0.73 1)" font-size="9.43" fill="#222" stroke="#222" letter-spacing="1.3">CAN–H</text>
<rect x="813.5" y="262.5" width="89" height="12" fill="none" stroke="#9a9a9a" stroke-width="1"/>
<text transform="matrix(0.95 0 0 1 821.5 272)" font-size="9.57" fill="#222" stroke="#222" text-anchor="middle">84</text>
<text transform="matrix(0.95 0 0 1 848 272)" font-size="9.57" fill="#222" stroke="#222" text-anchor="middle">83</text>
<text transform="matrix(0.95 0 0 1 871.2 272)" font-size="9.57" fill="#222" stroke="#222" text-anchor="middle">61</text>
<text transform="matrix(0.95 0 0 1 895.6 272)" font-size="9.57" fill="#222" stroke="#222" text-anchor="middle">62</text>
<rect x="794.5" y="274.5" width="16" height="16" fill="#fff" stroke="#9a9a9a" stroke-width="1.1"/>
<text transform="matrix(0.74 0 0 1 802.5 287)" font-size="12.86" fill="#333" stroke="#333" text-anchor="middle">A</text>
<rect x="847.5" y="175.5" width="61" height="15" fill="#fff" stroke="#9a9a9a" stroke-width="1.2"/>
<text transform="matrix(0.94 0 0 1 850.12 186)" font-size="10.43" fill="#222" stroke="#222">1.9 JTD 16v</text>
<text transform="matrix(0.8 0 0 1 825.41 299)" font-size="9.71" fill="#222" stroke="#222" letter-spacing="0.8">SN</text>
<text transform="matrix(0.8 0 0 1 851.21 299)" font-size="9.71" fill="#222" stroke="#222" letter-spacing="0.8">SB</text>
<rect x="658.5" y="327.5" width="88" height="13" fill="#fff" stroke="#9a9a9a" stroke-width="1"/>
<text transform="matrix(0.81 0 0 1 666.52 337)" font-size="9.14" fill="#222" stroke="#222" text-anchor="middle" letter-spacing="0.8">A4</text>
<text transform="matrix(0.81 0 0 1 692.62 337)" font-size="9.14" fill="#222" stroke="#222" text-anchor="middle" letter-spacing="0.8">A3</text>
<text transform="matrix(0.81 0 0 1 715.62 337)" font-size="9.14" fill="#222" stroke="#222" text-anchor="middle" letter-spacing="0.8">C4</text>
<text transform="matrix(0.81 0 0 1 740.52 337)" font-size="9.14" fill="#222" stroke="#222" text-anchor="middle" letter-spacing="0.8">C5</text>
<rect x="639.5" y="326.5" width="15" height="15" fill="#fff" stroke="#9a9a9a" stroke-width="1.1"/>
<text transform="matrix(0.74 0 0 1 646.75 338)" font-size="12.86" fill="#333" stroke="#333" text-anchor="middle">A</text>
<text transform="matrix(0.79 0 0 1 614.53 340)" font-size="21.71" fill="#1e1e1e" stroke="#1e1e1e" style="stroke-width:0.6px">D4</text>
<polyline points="180.5,244.5 180.5,535.5" fill="none" stroke="#888" stroke-width="1"/>
<polyline points="185.5,244.5 185.5,535.5" fill="none" stroke="#888" stroke-width="1"/>
<polyline points="206.5,244.5 206.5,535.5" fill="none" stroke="#888" stroke-width="1"/>
<polyline points="211.5,244.5 211.5,535.5" fill="none" stroke="#888" stroke-width="1"/>
<polyline points="229.5,535.5 229.5,402.5 650.5,402.5 650.5,349.5 662.5,340.5" fill="none" stroke="#888" stroke-width="1"/>
<polyline points="234.5,535.5 234.5,407.5 655.5,407.5 655.5,352.5 662.5,347" fill="none" stroke="#888" stroke-width="1"/>
<polyline points="234.5,528 249.5,521 249.5,437.5 745.5,437.5 745.5,535.5" fill="none" stroke="#888" stroke-width="1"/>
<polyline points="234.5,535.5 254.5,522.5 254.5,442.5 740.5,442.5 740.5,535.5" fill="none" stroke="#888" stroke-width="1"/>
<polyline points="267.5,535.5 267.5,414.5 689.5,414.5 689.5,340.5" fill="none" stroke="#888" stroke-width="1"/>
<polyline points="272.5,535.5 272.5,419.5 694.5,419.5 694.5,340.5" fill="none" stroke="#888" stroke-width="1"/>
<polyline points="272.5,528 286.5,521 286.5,449.5 720.5,449.5 720.5,535.5" fill="none" stroke="#888" stroke-width="1"/>
<polyline points="272.5,535.5 291.5,522.5 291.5,454.5 715.5,454.5 715.5,535.5" fill="none" stroke="#888" stroke-width="1"/>
<polyline points="694.5,347 701.5,352.5 701.5,476.5 587.5,476.5 587.5,497.5" fill="none" stroke="#888" stroke-width="1"/>
<polyline points="694.5,340.5 706.5,349.5 706.5,481.5 592.5,481.5 592.5,497.5" fill="none" stroke="#888" stroke-width="1"/>
<polyline points="662.5,340.5 662.5,462.5 562.5,462.5 562.5,497.5" fill="none" stroke="#888" stroke-width="1"/>
<polyline points="667.5,340.5 667.5,467.5 567.5,467.5 567.5,497.5" fill="none" stroke="#888" stroke-width="1"/>
<polyline points="562.5,510.5 562.5,535.5" fill="none" stroke="#888" stroke-width="1"/>
<polyline points="567.5,510.5 567.5,535.5" fill="none" stroke="#888" stroke-width="1"/>
<polyline points="587.5,510.5 587.5,535.5" fill="none" stroke="#888" stroke-width="1"/>
<polyline points="592.5,510.5 592.5,535.5" fill="none" stroke="#888" stroke-width="1"/>
<polyline points="712.5,340.5 712.5,407.5 868.5,407.5 868.5,535.5" fill="none" stroke="#888" stroke-width="1"/>
<polyline points="717.5,340.5 717.5,402.5 873.5,402.5 873.5,535.5" fill="none" stroke="#888" stroke-width="1"/>
<polyline points="737.5,340.5 737.5,396.5 893.5,396.5 893.5,535.5" fill="none" stroke="#888" stroke-width="1"/>
<polyline points="742.5,340.5 742.5,391.5 898.5,391.5 898.5,535.5" fill="none" stroke="#888" stroke-width="1"/>
<polyline points="667.5,426.5 769.5,426.5 769.5,535.5" fill="none" stroke="#888" stroke-width="1"/>
<polyline points="667.5,431.5 764.5,431.5 764.5,535.5" fill="none" stroke="#888" stroke-width="1"/>
<polyline points="706.5,414.5 794.5,414.5 794.5,535.5" fill="none" stroke="#888" stroke-width="1"/>
<polyline points="706.5,419.5 789.5,419.5 789.5,535.5" fill="none" stroke="#888" stroke-width="1"/>
<polyline points="818.5,274.5 818.5,366.5 229.5,366.5 229.5,402.5" fill="none" stroke="#888" stroke-width="1" stroke-dasharray="5.4 2.2"/>
<polyline points="823.5,274.5 823.5,371.5 234.5,371.5 234.5,402.5" fill="none" stroke="#888" stroke-width="1" stroke-dasharray="5.4 2.2"/>
<polyline points="845.5,274.5 845.5,379.5 267.5,379.5 267.5,414.5" fill="none" stroke="#888" stroke-width="1" stroke-dasharray="5.4 2.2"/>
<polyline points="850.5,274.5 850.5,384.5 272.5,384.5 272.5,414.5" fill="none" stroke="#888" stroke-width="1" stroke-dasharray="5.4 2.2"/>
<polyline points="868.5,274.5 868.5,402.5" fill="none" stroke="#888" stroke-width="1" stroke-dasharray="5.4 2.2"/>
<polyline points="873.5,274.5 873.5,402.5" fill="none" stroke="#888" stroke-width="1" stroke-dasharray="5.4 2.2"/>
<polyline points="893.5,274.5 893.5,391.5" fill="none" stroke="#888" stroke-width="1" stroke-dasharray="5.4 2.2"/>
<polyline points="898.5,274.5 898.5,391.5" fill="none" stroke="#888" stroke-width="1" stroke-dasharray="5.4 2.2"/>
<polyline points="958.5,504 958.5,535.5" fill="none" stroke="#888" stroke-width="1"/>
<polyline points="963.5,504 963.5,535.5" fill="none" stroke="#888" stroke-width="1"/>
<polyline points="983.5,504 983.5,535.5" fill="none" stroke="#888" stroke-width="1"/>
<polyline points="988.5,504 988.5,535.5" fill="none" stroke="#888" stroke-width="1"/>
<path d="M665 423.7 L670.3 429 L665 434.3 L659.7 429 Z" fill="#fff" stroke="#111" stroke-width="1.8"/>
<path d="M704 411.7 L709.3 417 L704 422.3 L698.7 417 Z" fill="#fff" stroke="#111" stroke-width="1.8"/>
<text transform="matrix(0.8 0 0 1 668.52 351)" font-size="9.43" fill="#222" stroke="#222" letter-spacing="0.8">SN</text>
<text transform="matrix(0.8 0 0 1 689.31 467)" font-size="9.71" fill="#222" stroke="#222" letter-spacing="0.8">SB</text>
<text transform="matrix(0.81 0 0 1 202.88 624)" font-size="21.86" fill="#1e1e1e" stroke="#1e1e1e" style="stroke-width:0.6px">M86</text>
<rect x="168" y="548" width="115" height="54" fill="#fff" stroke="#222" stroke-width="2" stroke-linejoin="round"/>
<rect x="176.5" y="535.5" width="100" height="12" fill="none" stroke="#9a9a9a" stroke-width="1"/>
<text transform="matrix(0.95 0 0 1 183 545)" font-size="9.29" fill="#222" stroke="#222" text-anchor="middle">6</text>
<text transform="matrix(0.95 0 0 1 209 545)" font-size="9.29" fill="#222" stroke="#222" text-anchor="middle">5</text>
<text transform="matrix(0.95 0 0 1 232 545)" font-size="9.29" fill="#222" stroke="#222" text-anchor="middle">8</text>
<text transform="matrix(0.95 0 0 1 270 545)" font-size="9.29" fill="#222" stroke="#222" text-anchor="middle">7</text>
<text transform="translate(186 577.14) rotate(-90) scale(0.72 1)" font-size="9.43" fill="#222" stroke="#222" letter-spacing="1.3">CAN–H</text>
<text transform="translate(212 577.14) rotate(-90) scale(0.72 1)" font-size="9.43" fill="#222" stroke="#222" letter-spacing="1.3">CAN–L</text>
<text transform="translate(235 577.14) rotate(-90) scale(0.72 1)" font-size="9.43" fill="#222" stroke="#222" letter-spacing="1.3">CAN–H</text>
<text transform="translate(273 577.14) rotate(-90) scale(0.72 1)" font-size="9.43" fill="#222" stroke="#222" letter-spacing="1.3">CAN–L</text>
<g transform="translate(223 590.7)"><circle r="7.8" fill="none" stroke="#111" stroke-width="1.9"/><path d="M-7.6 -2.8 Q0 -5.2 7.6 -2.8 L7.5 -0.4 Q2.6 -1.2 1.4 1.6 L1.1 8 L-1.1 8 L-1.4 1.6 Q-2.6 -1.2 -7.5 -0.4 Z" fill="#111"/></g>
<rect x="154.5" y="519.5" width="16" height="16" fill="#fff" stroke="#9a9a9a" stroke-width="1.1"/>
<text transform="matrix(0.74 0 0 1 162.5 532)" font-size="12.86" fill="#333" stroke="#333" text-anchor="middle">B</text>
<text transform="matrix(0.8 0 0 1 187.13 515)" font-size="9.14" fill="#222" stroke="#222" letter-spacing="0.8">SN</text>
<text transform="matrix(0.8 0 0 1 213.13 515)" font-size="9.14" fill="#222" stroke="#222" letter-spacing="0.8">SB</text>
<text transform="matrix(0.8 0 0 1 236.13 515)" font-size="9.14" fill="#222" stroke="#222" letter-spacing="0.8">SN</text>
<text transform="matrix(0.8 0 0 1 274.13 515)" font-size="9.14" fill="#222" stroke="#222" letter-spacing="0.8">SB</text>
<text transform="matrix(0.8 0 0 1 559.29 624)" font-size="21.86" fill="#1e1e1e" stroke="#1e1e1e" style="stroke-width:0.6px">M87</text>
<rect x="540" y="548" width="78" height="54" fill="#fff" stroke="#222" stroke-width="2" stroke-linejoin="round"/>
<rect x="558.5" y="535.5" width="39" height="12" fill="none" stroke="#9a9a9a" stroke-width="1"/>
<text transform="matrix(0.95 0 0 1 565 545)" font-size="9.29" fill="#222" stroke="#222" text-anchor="middle">2</text>
<text transform="matrix(0.95 0 0 1 590 545)" font-size="9.29" fill="#222" stroke="#222" text-anchor="middle">4</text>
<text transform="translate(568 576.64) rotate(-90) scale(0.72 1)" font-size="9.43" fill="#222" stroke="#222" letter-spacing="1.3">CAN–H</text>
<text transform="translate(593 576.64) rotate(-90) scale(0.71 1)" font-size="9.43" fill="#222" stroke="#222" letter-spacing="1.3">CAN–L</text>
<g transform="translate(578.5 589)"><path d="M-6.2 -4.6 Q-6 -6.6 -3.5 -6.6 L0 -6.6 Q2.4 -6.6 2.4 -4.6 L2.4 -1.6 L-6.2 -1.6 Z" fill="#111"/><rect x="-4.6" y="-5.3" width="5.2" height="1.5" rx="0.4" fill="#fff"/><rect x="-5.6" y="-2" width="1.6" height="2.7" fill="#111"/><path d="M-3.65 6.19 A4.9 4.9 0 1 1 5.85 6.19" fill="none" stroke="#111" stroke-width="1.7"/><path d="M-4.5 6.4 H-2.6 M5 6.4 H6.8" stroke="#111" stroke-width="1.1"/><path d="M-1.1 1.3 L1.5 5.6" stroke="#111" stroke-width="1.1"/><path d="M5.5 -1 L7.5 -2.9" stroke="#111" stroke-width="1.9"/></g>
<rect x="557.5" y="497.5" width="39" height="13" fill="#fff" stroke="#9a9a9a" stroke-width="1"/>
<text transform="matrix(0.95 0 0 1 564.9 508)" font-size="9.29" fill="#222" stroke="#222" text-anchor="middle">2</text>
<text transform="matrix(0.95 0 0 1 589.6 508)" font-size="9.29" fill="#222" stroke="#222" text-anchor="middle">4</text>
<text transform="matrix(0.77 0 0 1 518.98 510)" font-size="22.07" fill="#1e1e1e" stroke="#1e1e1e" style="stroke-width:0.6px">D94</text>
<rect x="466" y="496.5" width="46.5" height="15" fill="#fff" stroke="#9a9a9a" stroke-width="1.2"/>
<text transform="matrix(1.03 0 0 1 469.3 507)" font-size="9.71" fill="#222" stroke="#222">01/04</text>
<rect x="501" y="500.6" width="1.6" height="6.8" fill="#111"/><path d="M504 500.6 L510.6 504 L504 507.4 Z" fill="#111"/>
<text transform="matrix(0.8 0 0 1 568.91 493)" font-size="9.71" fill="#222" stroke="#222" letter-spacing="0.8">SN</text>
<text transform="matrix(0.8 0 0 1 593.51 493)" font-size="9.71" fill="#222" stroke="#222" letter-spacing="0.8">SB</text>
<text transform="matrix(0.8 0 0 1 568.91 522)" font-size="9.71" fill="#222" stroke="#222" letter-spacing="0.8">SN</text>
<text transform="matrix(0.8 0 0 1 593.51 522)" font-size="9.71" fill="#222" stroke="#222" letter-spacing="0.8">SB</text>
<text transform="matrix(0.8 0 0 1 691.41 624)" font-size="21.86" fill="#1e1e1e" stroke="#1e1e1e" style="stroke-width:0.6px">M54</text>
<rect x="693" y="548" width="122" height="54" fill="#fff" stroke="#222" stroke-width="2" stroke-linejoin="round"/>
<rect x="711.5" y="535.5" width="91" height="12" fill="none" stroke="#9a9a9a" stroke-width="1"/>
<text transform="matrix(0.95 0 0 1 718 545)" font-size="9.29" fill="#222" stroke="#222" text-anchor="middle">33</text>
<text transform="matrix(0.95 0 0 1 743 545)" font-size="9.29" fill="#222" stroke="#222" text-anchor="middle">45</text>
<text transform="matrix(0.95 0 0 1 767 545)" font-size="9.29" fill="#222" stroke="#222" text-anchor="middle">19</text>
<text transform="matrix(0.95 0 0 1 792 545)" font-size="9.29" fill="#222" stroke="#222" text-anchor="middle">7</text>
<text transform="translate(721 577.65) rotate(-90) scale(0.73 1)" font-size="9.43" fill="#222" stroke="#222" letter-spacing="1.3">CAN–L</text>
<text transform="translate(746 577.65) rotate(-90) scale(0.74 1)" font-size="9.43" fill="#222" stroke="#222" letter-spacing="1.3">CAN–H</text>
<text transform="translate(770 577.65) rotate(-90) scale(0.74 1)" font-size="9.43" fill="#222" stroke="#222" letter-spacing="1.3">CAN–H</text>
<text transform="translate(795 577.65) rotate(-90) scale(0.73 1)" font-size="9.43" fill="#222" stroke="#222" letter-spacing="1.3">CAN–L</text>
<rect x="737.3" y="581.7" width="31.4" height="15.9" fill="#fff" stroke="#999" stroke-width="1"/>
<text transform="matrix(1.08 0 0 1 738.27 588)" font-size="5" fill="#666" stroke="#666">ROBOT</text>
<path d="M746.8 595.8 V591.8 Q746.8 590.6 748 590.6 L751.5 590.6 Q752.7 591.8 753.8 593 L758.8 593 V595.8 Z" fill="none" stroke="#888" stroke-width="0.8"/><path d="M755.5 593 L758 589 L763 583.6 L768 589 M758.5 589.5 L763 585.5 L765.5 589.5" fill="none" stroke="#555" stroke-width="0.8"/>
<rect x="692.5" y="519.5" width="15" height="16" fill="#fff" stroke="#9a9a9a" stroke-width="1.1"/>
<text transform="matrix(0.74 0 0 1 699.75 532)" font-size="12.86" fill="#333" stroke="#333" text-anchor="middle">B</text>
<text transform="matrix(0.8 0 0 1 721.61 522)" font-size="9.71" fill="#222" stroke="#222" letter-spacing="0.8">SB</text>
<text transform="matrix(0.8 0 0 1 746.11 522)" font-size="9.71" fill="#222" stroke="#222" letter-spacing="0.8">SN</text>
<text transform="matrix(0.8 0 0 1 770.61 522)" font-size="9.71" fill="#222" stroke="#222" letter-spacing="0.8">SN</text>
<text transform="matrix(0.8 0 0 1 795.61 522)" font-size="9.71" fill="#222" stroke="#222" letter-spacing="0.8">SB</text>
<rect x="772.5" y="607.5" width="43" height="16" fill="#fff" stroke="#9a9a9a" stroke-width="1.2"/>
<text transform="matrix(0.88 0 0 1 775 620)" font-size="11.43" fill="#222" stroke="#222">2446</text>
<text transform="matrix(0.96 0 0 1 800.12 620)" font-size="8" fill="#222" stroke="#222">20v</text>
<text transform="matrix(0.81 0 0 1 868.58 624)" font-size="21.86" fill="#1e1e1e" stroke="#1e1e1e" style="stroke-width:0.6px">M50</text>
<rect x="846" y="548" width="78" height="54" fill="#fff" stroke="#222" stroke-width="2" stroke-linejoin="round"/>
<rect x="864.5" y="535.5" width="39" height="12" fill="none" stroke="#9a9a9a" stroke-width="1"/>
<text transform="matrix(0.95 0 0 1 871 545)" font-size="9.29" fill="#222" stroke="#222" text-anchor="middle">15</text>
<text transform="matrix(0.95 0 0 1 896 545)" font-size="9.29" fill="#222" stroke="#222" text-anchor="middle">26</text>
<text transform="translate(874 577.65) rotate(-90) scale(0.73 1)" font-size="9.43" fill="#222" stroke="#222" letter-spacing="1.3">CAN–L</text>
<text transform="translate(899 577.65) rotate(-90) scale(0.74 1)" font-size="9.43" fill="#222" stroke="#222" letter-spacing="1.3">CAN–H</text>
<circle cx="885.2" cy="589.2" r="5.2" fill="none" stroke="#222" stroke-width="1.3"/>
<path d="M878.6 583.6 Q875.2 589.2 878.6 594.8 M891.8 583.6 Q895.2 589.2 891.8 594.8" fill="none" stroke="#222" stroke-width="1.6"/>
<text x="885.2" y="590.6" font-size="3.8" text-anchor="middle" fill="#666" stroke="#666">ABS</text>
<text transform="matrix(0.8 0 0 1 874.41 522)" font-size="9.71" fill="#222" stroke="#222" letter-spacing="0.8">SB</text>
<text transform="matrix(0.8 0 0 1 899.01 522)" font-size="9.71" fill="#222" stroke="#222" letter-spacing="0.8">SN</text>
<text transform="matrix(0.81 0 0 1 959.38 624)" font-size="21.86" fill="#1e1e1e" stroke="#1e1e1e" style="stroke-width:0.6px">M50</text>
<rect x="936" y="548" width="79" height="54" fill="#fff" stroke="#222" stroke-width="2" stroke-linejoin="round"/>
<rect x="955.5" y="535.5" width="39" height="12" fill="none" stroke="#9a9a9a" stroke-width="1"/>
<text transform="matrix(0.95 0 0 1 961 545)" font-size="9.29" fill="#222" stroke="#222" text-anchor="middle">14</text>
<text transform="matrix(0.95 0 0 1 986 545)" font-size="9.29" fill="#222" stroke="#222" text-anchor="middle">35</text>
<text transform="translate(964 577.65) rotate(-90) scale(0.73 1)" font-size="9.43" fill="#222" stroke="#222" letter-spacing="1.3">CAN–L</text>
<text transform="translate(989 577.65) rotate(-90) scale(0.74 1)" font-size="9.43" fill="#222" stroke="#222" letter-spacing="1.3">CAN–H</text>
<text transform="matrix(0.85 0 0 1 977 595)" font-size="9.71" fill="#222" stroke="#222" text-anchor="middle">ESP</text>
<text transform="matrix(0.8 0 0 1 965.41 522)" font-size="9.71" fill="#222" stroke="#222" letter-spacing="0.8">SB</text>
<text transform="matrix(0.8 0 0 1 990.21 522)" font-size="9.71" fill="#222" stroke="#222" letter-spacing="0.8">SN</text></svg></body></html>
